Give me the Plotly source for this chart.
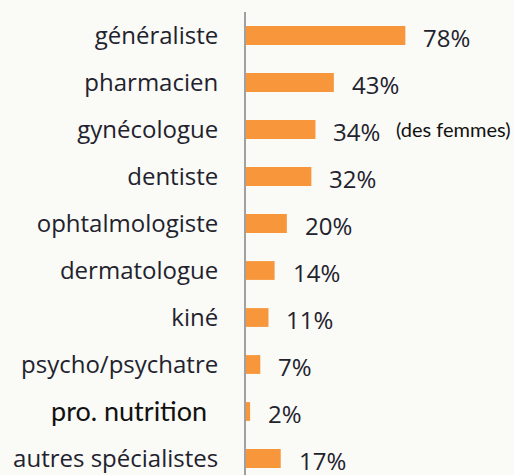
import plotly.graph_objects as go

categories = ["généraliste", "pharmacien", "gynécologue", "dentiste", "ophtalmologiste",
              "dermatologue", "kiné", "psycho/psychatre", "pro. nutrition", "autres spécialistes"]
values = [78, 43, 34, 32, 20, 14, 11, 7, 2, 17]
value_labels = ["78%", "43%", "34%", "32%", "20%", "14%", "11%", "7%", "2%", "17%"]
note_text = "(des femmes)"
note_category = "gynécologue"
special_category = "pro. nutrition"

BG = "#FAFAF6"
ORANGE = "#F7963A"
TEXT = "#22222E"

ticktext = ["" if c == special_category else c for c in categories]

fig = go.Figure(go.Bar(
    x=values, y=categories, orientation="h",
    marker=dict(color=ORANGE, line=dict(width=0)),
    width=0.4, hoverinfo="skip",
))

for c, v, t in zip(categories, values, value_labels):
    fig.add_annotation(x=v, y=c, text=t, xanchor="left", yanchor="middle",
                       xshift=16, yshift=-2, showarrow=False,
                       font=dict(family="Open Sans", size=24, color=TEXT))

fig.add_annotation(x=values[categories.index(note_category)], y=note_category,
                   text=note_text, xanchor="left", yanchor="middle", xshift=79, yshift=1,
                   showarrow=False, font=dict(family="Lato", size=20, color="#111111"))

idx = categories.index(special_category)
fig.add_shape(type="rect", xref="x", yref="y", xsizemode="pixel", xanchor=0,
              x0=-246, x1=-4, y0=idx - 0.5, y1=idx + 0.45,
              fillcolor="#FDFDFC", line=dict(width=0), layer="below")
fig.add_annotation(x=0, y=special_category, text=special_category, xanchor="right",
                   yanchor="middle", xshift=-37, yshift=1, showarrow=False,
                   font=dict(family="Lato", size=27, color="#111111"))

fig.update_layout(
    width=514, height=475,
    margin=dict(l=246, r=0, t=12, b=0),
    paper_bgcolor=BG, plot_bgcolor=BG,
    showlegend=False,
    xaxis=dict(range=[0, 131.2], visible=False, fixedrange=True),
    yaxis=dict(type="category", categoryorder="array", categoryarray=categories,
               tickmode="array", tickvals=categories, ticktext=ticktext,
               range=[9.351, -0.5], showline=True, linecolor="#A0A0A0", linewidth=2,
               ticks="", showgrid=False, ticklabelstandoff=21, automargin=False,
               fixedrange=True,
               tickfont=dict(family="Open Sans", size=24, color=TEXT)),
)

fig.write_html("out.html", config={"displayModeBar": False, "staticPlot": True},
               post_script="document.body.style.margin='0';document.body.style.overflow='hidden';")
